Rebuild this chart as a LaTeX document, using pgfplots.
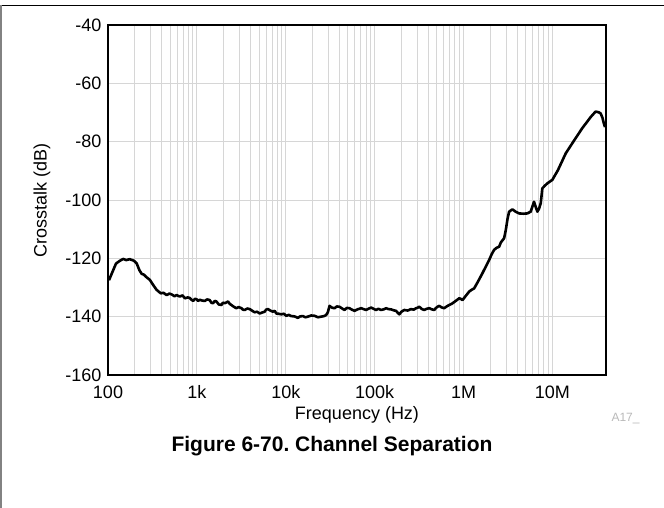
\documentclass[border=0pt]{standalone}
\usepackage{pgfplots}
\pgfplotsset{compat=1.18}
\usepackage{fontspec}
\setmainfont{Liberation Sans}

\definecolor{gridgray}{RGB}{214,214,214}
\definecolor{framegray}{RGB}{130,130,130}

\pgfplotstableread{
f       db
102.6   -127.5
111     -125.0
123     -121.8
135     -120.9
148     -120.2
160     -120.6
176     -120.3
195     -120.8
210     -121.7
225     -124.0
239     -125.3
253     -125.6
267     -126.3
296     -127.4
320     -129.0
352     -130.8
393     -132.0
420     -131.8
456     -132.6
490     -132.1
523     -132.4
560     -133.0
590     -132.6
643     -133.1
690     -132.7
731     -133.7
790     -133.4
832     -133.6
870     -134.2
906     -134.6
950     -133.9
990     -134.0
1030    -134.6
1078    -134.2
1150    -134.5
1227    -134.6
1300    -134.1
1396    -134.3
1450    -135.2
1520    -135.4
1590    -134.6
1660    -134.8
1760    -135.8
1888    -136.0
1960    -135.2
2056    -135.4
2150    -135.1
2240    -134.8
2340    -135.6
2443    -136.0
2600    -136.6
2780    -137.1
2950    -136.7
3167    -137.1
3300    -137.6
3450    -137.7
3700    -137.2
3926    -137.4
4200    -138.0
4467    -138.5
4750    -138.3
5082    -138.9
5400    -138.6
5781    -138.3
6000    -137.6
6295    -137.4
6700    -137.9
7161    -138.3
7500    -138.0
7816    -138.9
8300    -139.0
8913    -139.2
9500    -139.0
10140   -139.7
10800   -139.4
11530   -139.8
12500   -139.9
13680   -140.4
14500   -139.9
15560   -139.8
16600   -140.2
17700   -140.0
19300   -139.6
21040   -139.7
23000   -140.2
25000   -140.0
27000   -139.8
28510   -139.4
29700   -138.5
31050   -136.3
33000   -136.9
35320   -137.1
37500   -136.5
40180   -136.6
43000   -137.2
45710   -137.7
48500   -137.0
52000   -137.1
55500   -137.6
59160   -138.0
64000   -137.5
70310   -137.1
75000   -137.4
79980   -137.7
85000   -137.3
91200   -136.9
97000   -137.3
103700  -137.7
110000  -137.3
118000  -137.7
126000  -137.5
134300  -137.1
143000  -137.4
152800  -137.5
163000  -137.8
173800  -138.0
181000  -138.6
189200  -139.2
200000  -138.3
215300  -137.7
235000  -137.9
256400  -137.4
275000  -137.6
291700  -137.1
305000  -136.9
317700  -136.6
340000  -137.4
361400  -137.7
385000  -137.3
411100  -137.1
440000  -137.5
467700  -137.7
490000  -137.0
509300  -136.6
532100  -136.3
565000  -136.8
605300  -137.1
645000  -136.5
688700  -136.0
735000  -135.6
783400  -135.0
840000  -134.3
893300  -133.7
930000  -133.9
972700  -134.3
1050000 -133.0
1156000 -131.4
1230000 -130.8
1315000 -130.3
1450000 -128.0
1630000 -125.1
1780000 -122.8
1936000 -120.6
2070000 -118.6
2203000 -117.1
2350000 -116.4
2512000 -116.0
2620000 -114.6
2857000 -113.1
2985000 -110.3
3120000 -106.5
3251000 -104.0
3540000 -103.2
3850000 -104.0
4207000 -104.6
4700000 -104.7
5210000 -104.6
5690000 -104.0
6190000 -100.6
6500000 -102.5
6760000 -104.0
7050000 -103.0
7380000 -101.1
7690000 -96.0
8200000 -95.1
8750000 -94.3
9960000 -93.1
11500000 -89.8
14100000 -84.0
17500000 -79.6
21600000 -75.4
24500000 -73.2
27000000 -71.5
30500000 -69.7
33000000 -69.9
34800000 -70.3
36500000 -71.8
37800000 -73.7
39000000 -75.0
}\crosstalk

\begin{document}
\begin{tikzpicture}
\useasboundingbox (0pt,0pt) rectangle (664pt,-508pt);
% page frame
\draw[black, line width=1pt] (0pt,-5.5pt) -- (664pt,-5.5pt);
\draw[framegray, line width=1.5pt] (0.75pt,-5.5pt) -- (0.75pt,-508pt);

\begin{axis}[
    at={(108pt,-375pt)}, anchor=south west,
    scale only axis,
    width=498pt, height=350pt,
    xmode=log,
    xmin=100, xmax=4e7,
    ymin=-160, ymax=-40,
    xtick={1e2,1e3,1e4,1e5,1e6,1e7},
    xticklabels={100,1k,10k,100k,1M,10M},
    ytick={-160,-140,-120,-100,-80,-60,-40},
    yticklabels={-160,-140,-120,-100,-80,-60,-40},
    grid=both,
    major grid style={gridgray, line width=1pt},
    minor grid style={gridgray, line width=1pt},
    major tick length=0pt, minor tick length=0pt,
    axis line style={black, line width=2.2pt},
    ticklabel style={font=\fontsize{18}{20}\selectfont},
    xticklabel style={anchor=base, yshift=-23pt},
    yticklabel style={xshift=-3pt},
    xlabel={Frequency (Hz)},
    ylabel={Crosstalk (dB)},
    label style={font=\fontsize{18}{20}\selectfont},
    xlabel style={at={(axis description cs:0.5,0)}, anchor=base, yshift=-44pt},
    ylabel style={at={(axis description cs:0,0.5)}, anchor=center, yshift=66pt},
    clip=true,
  ]
  \addplot[black, line width=2.6pt, line join=round, no markers] table[x=f, y=db] {\crosstalk};
\end{axis}

\node[anchor=base west, text=gray!55, font=\fontsize{12}{14}\selectfont] at (608pt,-421pt) {A17\_};
\node[anchor=base, font=\bfseries\fontsize{21}{24}\selectfont] at (332pt,-451pt) {Figure 6-70.\ Channel Separation};
\end{tikzpicture}
\end{document}
